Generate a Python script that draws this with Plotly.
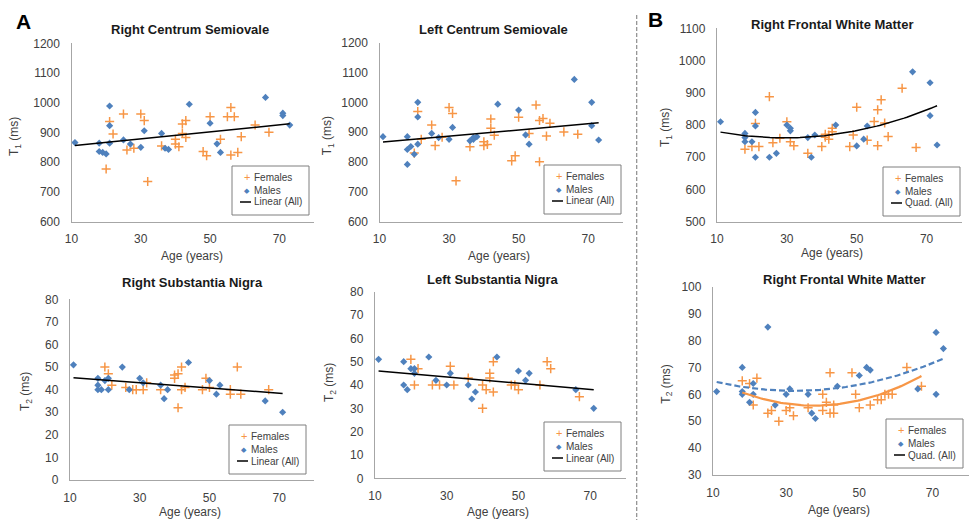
import numpy as np
import plotly.graph_objects as go

W, H = 971, 520
FONT = "Liberation Sans, Arial, sans-serif"
ORANGE = "#F79646"
BLUE = "#4F81BD"
AXIS = "#A6A6A6"
TICK = "#404040"

# ---------------- data ----------------
titles = ["Right Centrum Semiovale", "Left Centrum Semiovale", "Right Frontal White Matter",
          "Right Substantia Nigra", "Left Substantia Nigra", "Right Frontal White Matter"]
y_titles = ["T<sub>1</sub> (ms)"] * 3 + ["T<sub>2</sub> (ms)"] * 3
x_title = "Age (years)"
fit_names = ["Linear (All)", "Linear (All)", "Quad. (All)", "Linear (All)", "Linear (All)", "Quad. (All)"]
series_names = ["Females", "Males"]
panel_letters = ["A", "B"]

# Right Centrum Semiovale (T1)
rcs_f_age = [20, 21, 22, 25, 26, 28, 30, 31, 32, 36, 40, 40, 41, 42, 42, 43, 43, 48, 49, 50,
             53, 55, 56, 57, 56, 58, 59, 63, 67]
rcs_f_val = [777, 937, 895, 962, 841, 847, 962, 940, 735, 855, 877, 861, 852, 929, 897, 940, 883, 836, 822, 953,
             877, 953, 984, 953, 824, 833, 886, 925, 901]
rcs_m_age = [11, 18, 18, 19, 20, 21, 21, 21, 25, 27, 30, 31, 36, 37, 38, 44, 50, 52, 53, 66, 71, 71, 73]
rcs_m_val = [866, 864, 836, 833, 828, 989, 923, 864, 875, 861, 850, 906, 897, 847, 843, 995, 931, 862, 833,
             1018, 965, 957, 925]

# Left Centrum Semiovale (T1)
lcs_f_age = [20, 21, 22, 25, 26, 28, 30, 31, 32, 36, 40, 40, 41, 42, 42, 43, 48, 49, 50, 53,
             55, 56, 57, 56, 58, 59, 63, 67]
lcs_f_val = [830, 969, 876, 924, 855, 883, 983, 963, 737, 851, 868, 855, 859, 944, 913, 890, 804, 821, 950, 896,
             991, 939, 946, 801, 887, 930, 901, 893]
lcs_m_age = [11, 18, 18, 19, 18, 20, 21, 21, 21, 25, 27, 30, 31, 36, 37, 37, 38, 44, 50, 52, 53, 66, 71, 71, 73]
lcs_m_val = [885, 885, 842, 852, 792, 826, 1000, 951, 860, 896, 882, 876, 916, 871, 876, 882, 885, 994, 974, 891,
             860, 1077, 1000, 922, 874]

# Right Frontal White Matter (T1)
rfw1_f_age = [18, 20, 21, 22, 25, 26, 28, 30, 31, 32, 36, 40, 41, 41, 42, 42, 43, 43, 48, 49,
              50, 53, 55, 56, 56, 57, 58, 59, 63, 67]
rfw1_f_val = [725, 733, 805, 733, 888, 745, 759, 810, 748, 736, 712, 733, 762, 771, 756, 769, 779, 790, 733, 769,
              855, 753, 811, 847, 736, 878, 806, 764, 914, 730]
rfw1_m_age = [11, 18, 18, 18, 20, 21, 21, 21, 25, 27, 30, 31, 31, 36, 37, 38, 44, 50, 52, 53, 66, 71, 71, 73]
rfw1_m_val = [810, 774, 761, 748, 748, 839, 797, 700, 700, 712, 800, 790, 782, 761, 700, 769, 800, 735, 756, 797,
              965, 931, 829, 738]

# Right Substantia Nigra (T2)
rsn_f_age = [20, 21, 22, 26, 28, 29, 31, 32, 36, 40, 40, 41, 41, 42, 42, 43, 48, 49, 50, 56, 56, 58, 59, 67]
rsn_f_val = [50, 47, 42, 41, 40, 40, 40, 43, 40, 45, 46.5, 47, 32, 50, 40, 41, 40, 45, 41, 40, 38, 50, 38, 40]
rsn_m_age = [11, 18, 18, 18, 19, 20, 21, 21, 25, 27, 30, 31, 36, 37, 38, 44, 50, 52, 53, 66, 71]
rsn_m_val = [51, 45, 42, 40, 40, 44, 45, 40, 50, 40, 45, 43, 42, 36, 40, 52, 44, 38, 42, 35, 30]

# Left Substantia Nigra (T2)
lsn_f_age = [20, 21, 22, 26, 28, 31, 32, 36, 40, 40, 41, 42, 42, 43, 43, 48, 49, 50, 56, 58, 59, 67]
lsn_f_val = [51, 40, 47, 40, 40, 48, 40, 43, 40, 30, 38, 45, 43, 50, 37, 40, 40, 38, 40, 50, 47, 35]
lsn_m_age = [11, 18, 18, 19, 20, 21, 21, 25, 27, 30, 31, 36, 37, 38, 44, 50, 52, 53, 66, 71]
lsn_m_val = [51, 50, 40, 38, 47, 47, 45, 52, 42, 40, 45, 40, 34, 37, 52, 46, 42, 45, 38, 30]

# Right Frontal White Matter (T2)
rfw2_f_age = [18, 20, 22, 21, 25, 26, 28, 30, 31, 32, 36, 40, 40, 41, 42, 42, 43, 43, 48, 49,
              50, 53, 55, 56, 57, 58, 59, 63, 67]
rfw2_f_val = [65, 64, 66, 56, 53, 54, 50, 54, 55, 52, 55, 54, 60, 57, 68, 53, 56, 53, 68, 60,
              55, 56, 58, 58, 60, 60, 60, 70, 63]
rfw2_m_age = [11, 18, 18, 18, 20, 21, 21, 25, 27, 30, 31, 36, 37, 38, 44, 50, 52, 53, 66, 71, 71, 73]
rfw2_m_val = [61, 70, 61, 60, 57, 64, 60, 85, 56, 60, 62, 60, 53, 51, 63, 67, 70, 69, 62, 83, 60, 77]

x_range = [10, 80]
y_ranges = [[600, 1200], [600, 1200], [500, 1100], [0, 80], [0, 80], [30, 100]]
y_dticks = [100, 100, 100, 10, 10, 10]

# ---------------- layout geometry (pixels) ----------------
# (left, right, top, bottom) of each plot area
boxes = [(71.5, 314, 43.3, 221.7), (379.5, 623, 42.7, 221.7), (717, 961.5, 28.3, 221.7),
         (70, 314, 299.3, 480), (375, 626, 291.7, 478.3), (713, 969, 286.7, 475)]
title_pos = [(190, 29.3), (493, 29.3), (832, 24), (192.5, 282.7), (493, 279.3), (844, 279.3)]
xtitle_pos = [(191.7, 256), (499, 256), (831.7, 253), (190, 511.5), (497.7, 511.5), (839, 510)]
ytitle_pos = [(15, 137), (328.3, 136), (666, 128), (26, 392), (330, 383), (666.7, 384)]
legend_boxes = [(232, 166), (544, 165), (883, 167), (229, 425), (544, 422), (886, 419)]
LEG_W, LEG_H = 77, 49
LEG_ROWS = [11, 24, 36]
LEG_SYM_X, LEG_TXT_X, LEG_LINE = 15, 20, (8, 19)
letter_pos = [(23, 22), (655, 20)]
sep_x, sep_top = 636.7, 15


def px(x):
    return x / W


def py(y):
    return 1 - y / H


panels = [
    (rcs_f_age, rcs_f_val, rcs_m_age, rcs_m_val, 1),
    (lcs_f_age, lcs_f_val, lcs_m_age, lcs_m_val, 1),
    (rfw1_f_age, rfw1_f_val, rfw1_m_age, rfw1_m_val, 2),
    (rsn_f_age, rsn_f_val, rsn_m_age, rsn_m_val, 1),
    (lsn_f_age, lsn_f_val, lsn_m_age, lsn_m_val, 1),
    (rfw2_f_age, rfw2_f_val, rfw2_m_age, rfw2_m_val, 2),
]

fig = go.Figure()
layout = dict(
    width=W, height=H, margin=dict(l=0, r=0, t=0, b=0, pad=0, autoexpand=False),
    paper_bgcolor="white", plot_bgcolor="white",
    font=dict(family=FONT, color=TICK, size=12),
    showlegend=False,
)
annotations = []
shapes = []


def fitline(ages, vals, deg):
    a = np.asarray(ages, float)
    v = np.asarray(vals, float)
    c = np.polyfit(a, v, deg)
    xs = np.linspace(a.min(), a.max(), 80)
    return xs, np.polyval(c, xs)


def ann(text, x, y, size, color, xanchor="center", angle=0):
    annotations.append(dict(text=text, x=px(x), y=py(y), xref="paper", yref="paper", showarrow=False,
                            xanchor=xanchor, yanchor="middle", textangle=angle,
                            font=dict(size=size, color=color, family=FONT)))


F_MARK = dict(symbol="cross-thin", size=6.5, color=ORANGE, line=dict(color=ORANGE, width=1.5))
M_MARK = dict(symbol="diamond", size=5.5, color=BLUE, line=dict(width=0))

for i, (fa, fv, ma, mv, deg) in enumerate(panels):
    n = i + 1
    xa = "x" if n == 1 else f"x{n}"
    ya = "y" if n == 1 else f"y{n}"
    l, r, t, b = boxes[i]

    fig.add_trace(go.Scatter(x=fa, y=fv, mode="markers", name=series_names[0], xaxis=xa, yaxis=ya,
                             marker=F_MARK))
    fig.add_trace(go.Scatter(x=ma, y=mv, mode="markers", name=series_names[1], xaxis=xa, yaxis=ya,
                             marker=M_MARK))
    if n == 6:
        xs, ys = fitline(ma, mv, deg)
        fig.add_trace(go.Scatter(x=xs, y=ys, mode="lines", name="Quad. (Males)", xaxis=xa, yaxis=ya,
                                 line=dict(color=BLUE, width=2.2, dash="6px,3px")))
        xs, ys = fitline(fa, fv, deg)
        fig.add_trace(go.Scatter(x=xs, y=ys, mode="lines", name="Quad. (Females)", xaxis=xa, yaxis=ya,
                                 line=dict(color=ORANGE, width=2.2)))
    else:
        xs, ys = fitline(list(fa) + list(ma), list(fv) + list(mv), deg)
        fig.add_trace(go.Scatter(x=xs, y=ys, mode="lines", name=fit_names[i], xaxis=xa, yaxis=ya,
                                 line=dict(color="black", width=1.5)))

    axcommon = dict(showline=True, linecolor=AXIS, linewidth=1.3, showgrid=False, zeroline=False,
                    ticks="", tickfont=dict(size=12, color=TICK, family=FONT),
                    fixedrange=True, automargin=False)
    layout["xaxis" if n == 1 else f"xaxis{n}"] = dict(
        domain=[px(l), px(r)], anchor=ya, range=x_range, tick0=10, dtick=20, ticklabelstandoff=6,
        **axcommon)
    layout["yaxis" if n == 1 else f"yaxis{n}"] = dict(
        domain=[py(b), py(t)], anchor=xa, range=y_ranges[i], tick0=y_ranges[i][0], dtick=y_dticks[i],
        ticklabelstandoff=8, **axcommon)

    # legend box
    gl, gt = legend_boxes[i]
    shapes.append(dict(type="rect", xref="paper", yref="paper", x0=px(gl), x1=px(gl + LEG_W),
                       y0=py(gt + LEG_H), y1=py(gt), fillcolor="white",
                       line=dict(color="#7F7F7F", width=1)))
    shapes.append(dict(type="line", xref="paper", yref="paper", x0=px(gl + LEG_LINE[0]),
                       x1=px(gl + LEG_LINE[1]), y0=py(gt + LEG_ROWS[2]), y1=py(gt + LEG_ROWS[2]),
                       line=dict(color="black", width=1.5)))
    ann("+", gl + LEG_SYM_X, gt + LEG_ROWS[0], 11, ORANGE)
    ann("◆", gl + LEG_SYM_X, gt + LEG_ROWS[1], 7, BLUE)
    ann(series_names[0], gl + LEG_TXT_X, gt + LEG_ROWS[0], 10, TICK, "left")
    ann(series_names[1], gl + LEG_TXT_X, gt + LEG_ROWS[1], 10, TICK, "left")
    ann(fit_names[i], gl + LEG_TXT_X, gt + LEG_ROWS[2], 10, TICK, "left")

    tx, ty = title_pos[i]
    ann(f"<b>{titles[i]}</b>", tx, ty, 13, "#1a1a1a")
    tx, ty = xtitle_pos[i]
    ann(x_title, tx, ty, 12, TICK)
    tx, ty = ytitle_pos[i]
    ann(y_titles[i], tx, ty, 12, TICK, angle=-90)

for letter, (lx, ly) in zip(panel_letters, letter_pos):
    ann(f"<b>{letter}</b>", lx, ly, 21, "black")

shapes.append(dict(type="line", xref="paper", yref="paper", x0=px(sep_x), x1=px(sep_x),
                   y0=py(sep_top), y1=0, line=dict(color="#8C8C8C", width=1.2, dash="4px,2px")))
layout["annotations"] = annotations
layout["shapes"] = shapes
fig.update_layout(**layout)
fig.write_html("out.html", config={"displayModeBar": False},
               post_script="document.body.style.margin='0px';")
